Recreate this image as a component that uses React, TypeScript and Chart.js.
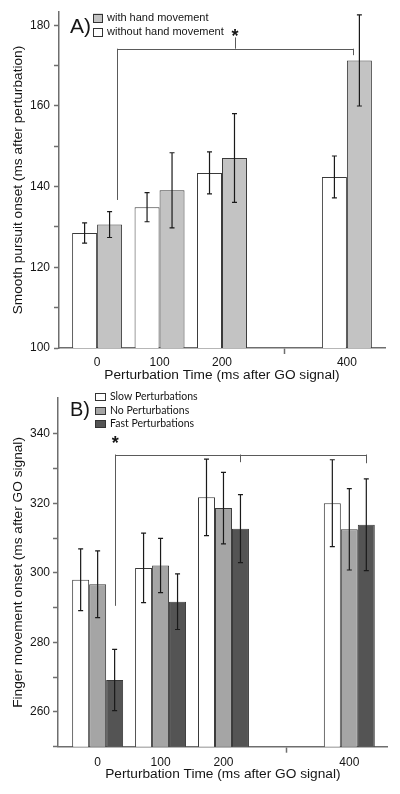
import React, { useEffect, useRef } from 'react';
import { Chart, registerables } from 'chart.js';

Chart.register(...registerables);

// ---------- data ----------
const timesA = [0, 100, 200, 400];
const withoutHandA = [128.5, 134.9, 143.4, 142.4];
const withoutHandErrA = [2.5, 3.6, 5.2, 5.2];
const withHandA = [130.6, 139.1, 147.1, 171.3];
const withHandErrA = [3.2, 9.3, 11.0, 11.3];

const timesB = [0, 100, 200, 400];
const slowB = [298.0, 301.4, 321.7, 320.0];
const slowErrB = [8.9, 10.0, 11.0, 12.5];
const noPertB = [296.7, 302.1, 318.6, 312.5];
const noPertErrB = [9.6, 7.8, 10.3, 11.7];
const fastB = [269.2, 291.7, 312.7, 313.8];
const fastErrB = [8.8, 8.0, 9.8, 13.2];

const xTickValues = [0, 100, 200, 300, 400];
const xTickLabels = ['0', '100', '200', '', '400'];
const yTicksA = [100, 110, 120, 130, 140, 150, 160, 170, 180];
const yTicksB = [250, 260, 270, 280, 290, 300, 310, 320, 330, 340];

const xTitle = 'Perturbation Time (ms after GO signal)';
const yTitleA = 'Smooth pursuit onset (ms after perturbation)';
const yTitleB = 'Finger movement onset (ms after GO signal)';

// ---------- style ----------
const AXIS = '#6e6e6e';
const TEXT = '#151515';
const FONT = '"Liberation Sans", Arial, Helvetica, sans-serif';
const LEGEND_B_FONT = 'Lato, "Open Sans", sans-serif';

type Series = { label: string; values: number[]; errors: number[]; color: string };
type Bracket = { legs: { x: number; yTop: number; yBottom: number }[]; y: number; x0: number; x1: number; star: { x: number; y: number } };

type PanelSpec = {
  height: number;
  times: number[];
  series: Series[];
  legendOrder: number[];
  panelLabel: string;
  panelLabelSize: number;
  yTitle: string;
  yMin: number;
  yMax: number;
  yTicks: number[];
  xMin: number;
  xMax: number;
  catPct: number;
  padding: { top: number; right: number; left: number; bottom: number };
  yAxisWidth: number;
  xAxisHeight: number;
  xTickPad: number;
  yTickPad: number;
  xTitlePad: number;
  capHalf: number;
  bracket: Bracket;
  legend: { boxX: number; boxW: number; boxH: number; textX: number; rowsY: number[]; font: string; labelX: number; labelBaseline: number };
};

function makeErrorPlugin(p: PanelSpec) {
  return {
    id: 'errorBars',
    afterDatasetsDraw(chart: any) {
      const ctx = chart.ctx as CanvasRenderingContext2D;
      const ys = chart.scales.y;
      ctx.save();
      ctx.strokeStyle = '#1a1a1a';
      ctx.lineWidth = 1.2;
      p.series.forEach((s, di) => {
        const meta = chart.getDatasetMeta(di);
        meta.data.forEach((el: any, i: number) => {
          const x = el.x;
          const top = ys.getPixelForValue(s.values[i] + s.errors[i]);
          const bot = ys.getPixelForValue(s.values[i] - s.errors[i]);
          ctx.beginPath();
          ctx.moveTo(x, top);
          ctx.lineTo(x, bot);
          ctx.moveTo(x - p.capHalf, top);
          ctx.lineTo(x + p.capHalf, top);
          ctx.moveTo(x - p.capHalf, bot);
          ctx.lineTo(x + p.capHalf, bot);
          ctx.stroke();
        });
      });
      ctx.restore();
    },
  };
}

function makeAnnotPlugin(p: PanelSpec) {
  return {
    id: 'annot',
    afterDraw(chart: any) {
      const ctx = chart.ctx as CanvasRenderingContext2D;
      const xs = chart.scales.x;
      const ys = chart.scales.y;
      const b = p.bracket;
      ctx.save();
      // bracket
      ctx.strokeStyle = '#5a5a5a';
      ctx.lineWidth = 1;
      const yb = Math.round(ys.getPixelForValue(b.y)) + 0.5;
      ctx.beginPath();
      ctx.moveTo(Math.round(xs.getPixelForValue(b.x0)) + 0.5, yb);
      ctx.lineTo(Math.round(xs.getPixelForValue(b.x1)) + 0.5, yb);
      b.legs.forEach((l) => {
        const lx = Math.round(xs.getPixelForValue(l.x)) + 0.5;
        ctx.moveTo(lx, ys.getPixelForValue(l.yTop));
        ctx.lineTo(lx, ys.getPixelForValue(l.yBottom));
      });
      ctx.stroke();
      // star
      ctx.fillStyle = TEXT;
      ctx.font = `bold 18px ${FONT}`;
      ctx.textAlign = 'center';
      ctx.textBaseline = 'alphabetic';
      ctx.fillText('*', xs.getPixelForValue(b.star.x), ys.getPixelForValue(b.star.y) + 10);
      // panel label
      ctx.font = `${p.panelLabelSize}px ${FONT}`;
      ctx.textAlign = 'left';
      ctx.fillText(p.panelLabel, p.legend.labelX, p.legend.labelBaseline);
      // legend
      const L = p.legend;
      ctx.font = L.font;
      ctx.textBaseline = 'middle';
      p.legendOrder.forEach((si, row) => {
        const s = p.series[si];
        const cy = L.rowsY[row];
        ctx.fillStyle = s.color;
        ctx.fillRect(L.boxX, cy - L.boxH / 2, L.boxW, L.boxH);
        ctx.strokeStyle = '#333';
        ctx.lineWidth = 1;
        ctx.strokeRect(L.boxX + 0.5, Math.round(cy - L.boxH / 2) + 0.5, L.boxW - 1, L.boxH - 1);
        ctx.fillStyle = TEXT;
        ctx.fillText(s.label, L.textX, cy);
      });
      ctx.restore();
    },
  };
}

function buildChart(canvas: HTMLCanvasElement, p: PanelSpec) {
  const datasets = p.series.map((s) => ({
    label: s.label,
    data: p.times.map((t, i) => ({ x: t, y: s.values[i] })),
    backgroundColor: s.color,
    borderColor: '#3a3a3a',
    borderWidth: 1,
    borderSkipped: 'start',
    categoryPercentage: p.catPct,
    barPercentage: 1,
  }));
  return new Chart(canvas, {
    type: 'bar',
    data: { datasets } as any,
    options: {
      animation: false,
      responsive: false,
      layout: { padding: p.padding },
      plugins: { legend: { display: false }, tooltip: { enabled: false } },
      scales: {
        x: {
          type: 'linear',
          offset: false,
          min: p.xMin,
          max: p.xMax,
          afterBuildTicks: (axis: any) => {
            axis.ticks = xTickValues.map((v) => ({ value: v }));
          },
          afterFit: (axis: any) => {
            axis.height = p.xAxisHeight;
          },
          grid: {
            offset: false,
            drawOnChartArea: false,
            drawTicks: true,
            tickLength: 6,
            tickWidth: 1.5,
            tickColor: (c: any) => (c.tick && c.tick.value === 300 ? AXIS : 'rgba(0,0,0,0)'),
          },
          border: { display: true, color: AXIS, width: 1.5 },
          ticks: {
            padding: p.xTickPad,
            color: TEXT,
            autoSkip: false,
            maxRotation: 0,
            font: { family: FONT, size: 12 },
            callback: (v: any) => {
              const i = xTickValues.indexOf(Number(v));
              return i >= 0 ? xTickLabels[i] : '';
            },
          },
          title: {
            display: true,
            text: xTitle,
            color: TEXT,
            font: { family: FONT, size: 13.7 },
            padding: { top: 0, bottom: p.xTitlePad },
          },
        },
        y: {
          type: 'linear',
          min: p.yMin,
          max: p.yMax,
          afterBuildTicks: (axis: any) => {
            axis.ticks = p.yTicks.map((v) => ({ value: v }));
          },
          afterFit: (axis: any) => {
            axis.width = p.yAxisWidth;
          },
          grid: { drawOnChartArea: false, drawTicks: true, tickLength: 5, tickWidth: 1.5, tickColor: AXIS },
          border: { display: true, color: AXIS, width: 1.5 },
          ticks: {
            padding: p.yTickPad,
            color: TEXT,
            autoSkip: false,
            font: { family: FONT, size: 12 },
            callback: (v: any) => (Number(v) % 20 === 0 ? String(v) : ''),
          },
          title: {
            display: true,
            text: p.yTitle,
            color: TEXT,
            font: { family: FONT, size: 13.7 },
            padding: { top: 10, bottom: 0 },
          },
        },
      },
    } as any,
    plugins: [makeErrorPlugin(p), makeAnnotPlugin(p)],
  });
}

const panelA: PanelSpec = {
  height: 388,
  times: timesA,
  series: [
    { label: 'without hand movement', values: withoutHandA, errors: withoutHandErrA, color: '#ffffff' },
    { label: 'with hand movement', values: withHandA, errors: withHandErrA, color: '#c3c3c3' },
  ],
  legendOrder: [1, 0],
  panelLabel: 'A)',
  panelLabelSize: 21,
  yTitle: yTitleA,
  yMin: 100,
  yMax: 183.3,
  yTicks: yTicksA,
  xMin: -61,
  xMax: 461,
  catPct: 0.8,
  padding: { top: 12, right: 15, left: 0, bottom: 0 },
  yAxisWidth: 59,
  xAxisHeight: 40,
  xTickPad: 1,
  yTickPad: 4,
  xTitlePad: 4.8,
  capHalf: 2.5,
  bracket: {
    y: 174.2,
    x0: 31.6,
    x1: 409,
    legs: [
      { x: 31.6, yTop: 174.2, yBottom: 136.7 },
      { x: 409, yTop: 174.2, yBottom: 172.6 },
      { x: 221, yTop: 177, yBottom: 174.2 },
    ],
    star: { x: 221, y: 178.3 },
  },
  legend: { boxX: 93, boxW: 10, boxH: 9, textX: 107, rowsY: [18, 32], font: `11px ${FONT}`, labelX: 70, labelBaseline: 32.5 },
};

const panelB: PanelSpec = {
  height: 406,
  times: timesB,
  series: [
    { label: 'Slow Perturbations', values: slowB, errors: slowErrB, color: '#ffffff' },
    { label: 'No Perturbations', values: noPertB, errors: noPertErrB, color: '#a5a5a5' },
    { label: 'Fast Perturbations', values: fastB, errors: fastErrB, color: '#545454' },
  ],
  legendOrder: [0, 1, 2],
  panelLabel: 'B)',
  panelLabelSize: 20,
  yTitle: yTitleB,
  yMin: 250,
  yMax: 350.2,
  yTicks: yTicksB,
  xMin: -63,
  xMax: 461,
  catPct: 0.81,
  padding: { top: 7, right: 12.3, left: 0, bottom: 0 },
  yAxisWidth: 58,
  xAxisHeight: 47.3,
  xTickPad: 2.8,
  yTickPad: 3,
  xTitlePad: 11.8,
  capHalf: 2.5,
  bracket: {
    y: 334,
    x0: 28,
    x1: 427,
    legs: [
      { x: 28, yTop: 334, yBottom: 290.5 },
      { x: 227, yTop: 334, yBottom: 331.8 },
      { x: 427, yTop: 334, yBottom: 331.5 },
    ],
    star: { x: 28, y: 338.4 },
  },
  legend: { boxX: 95, boxW: 11, boxH: 8, textX: 110, rowsY: [9, 23, 36], font: `10.5px ${LEGEND_B_FONT}`, labelX: 70, labelBaseline: 28.3 },
};

function Panel({ spec }: { spec: PanelSpec }) {
  const ref = useRef<HTMLCanvasElement>(null);
  useEffect(() => {
    if (!ref.current) return;
    const chart = buildChart(ref.current, spec);
    return () => chart.destroy();
  }, [spec]);
  return (
    <canvas
      ref={ref}
      width={400}
      height={spec.height}
      style={{ display: 'block', width: 400, height: spec.height }}
    />
  );
}

export default function App() {
  return (
    <div style={{ position: 'absolute', left: 0, top: 0, width: 400, height: 794, background: '#ffffff' }}>
      <Panel spec={panelA} />
      <Panel spec={panelB} />
    </div>
  );
}
